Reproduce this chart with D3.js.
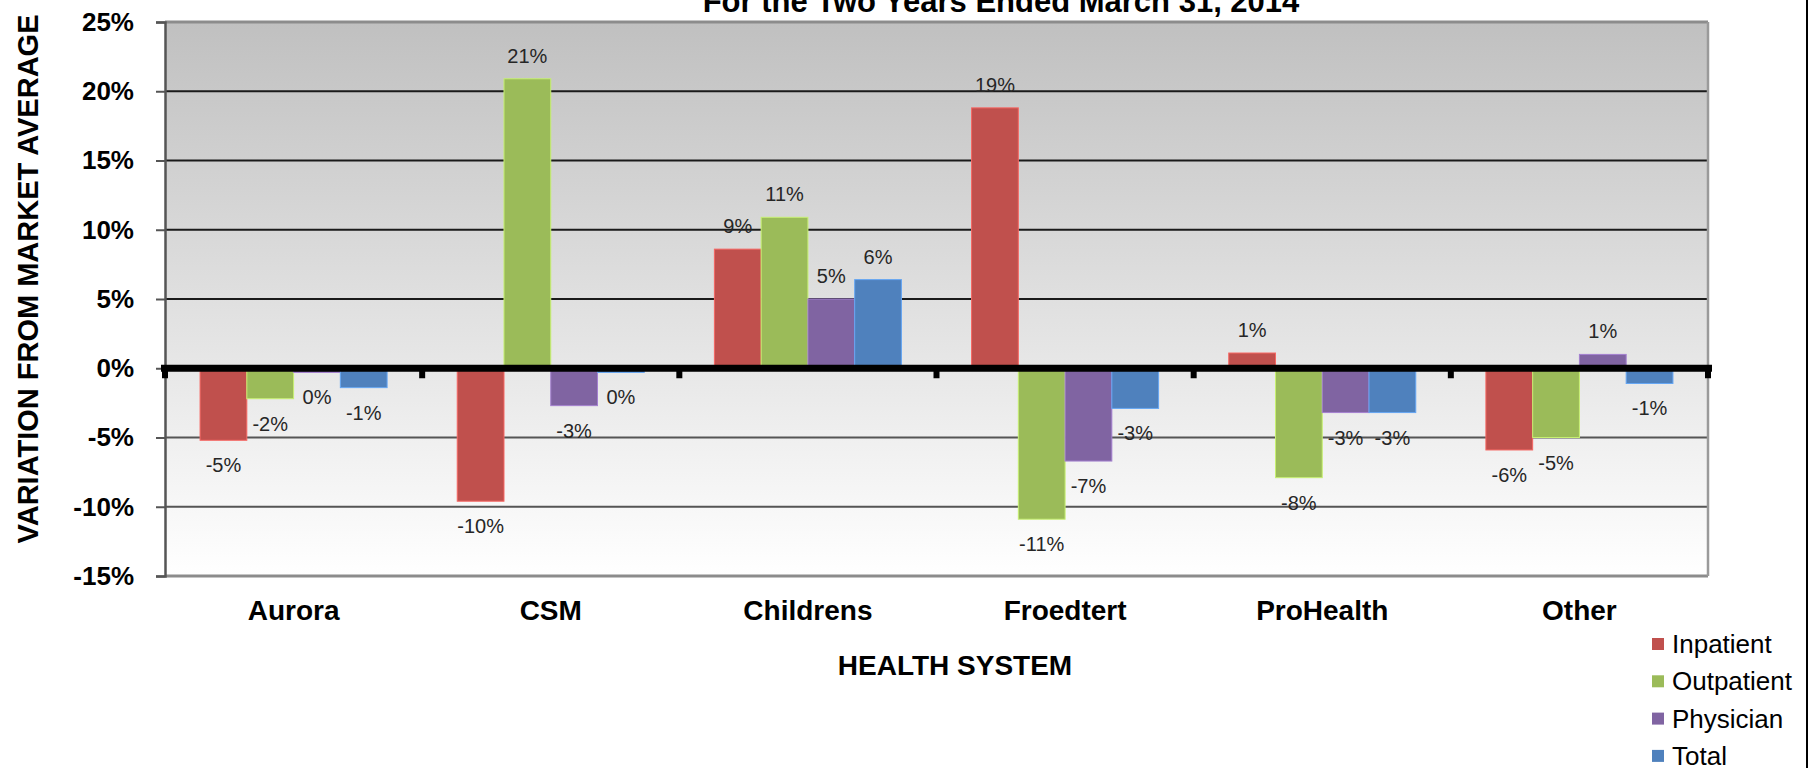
<!DOCTYPE html>
<html>
<head>
<meta charset="utf-8">
<script src="https://cdn.jsdelivr.net/npm/d3@7"></script>
<style>
  body { margin: 0; background: #fff; }
  text { font-family: Arial, "Liberation Sans", sans-serif; }
</style>
</head>
<body>
<svg id="chart" width="1810" height="768"></svg>
<script>
/* Variation from market average by health system, grouped bars. */

// Data (percent)
const categories = ["Aurora", "CSM", "Childrens", "Froedtert", "ProHealth", "Other"];
const seriesNames = ["Inpatient", "Outpatient", "Physician", "Total"];
const inpatient = [-5.2, -9.6, 8.6, 18.8, 1.1, -5.9];
const outpatient = [-2.2, 20.9, 10.9, -10.9, -7.9, -5.0];
const physician = [-0.3, -2.7, 5.0, -6.7, -3.2, 1.0];
const total = [-1.4, -0.3, 6.4, -2.9, -3.2, -1.1];
const yTicks = [-15, -10, -5, 0, 5, 10, 15, 20, 25];
const seriesColors = ["#C0504D", "#9BBB59", "#8064A2", "#4F81BD"];

const seriesValues = [inpatient, outpatient, physician, total];

const plot = { left: 165, right: 1708, top: 22, bottom: 576 };

const svg = d3.select("#chart");

const x0 = d3.scaleBand().domain(categories).range([plot.left, plot.right]);
const barW = x0.bandwidth() / 5.5;
const x1 = d3
  .scaleBand()
  .domain(seriesNames)
  .range([0, barW * 4]);
const groupOffset = (x0.bandwidth() - barW * 4) / 2;

const y = d3.scaleLinear().domain([-15, 25]).range([plot.bottom, plot.top]);
const color = d3.scaleOrdinal().domain(seriesNames).range(seriesColors);

// plot background gradient
const defs = svg.append("defs");
const grad = defs
  .append("linearGradient")
  .attr("id", "bg")
  .attr("x1", 0).attr("y1", 0).attr("x2", 0).attr("y2", 1);
grad.append("stop").attr("offset", "0%").attr("stop-color", "#c0c0c0");
grad.append("stop").attr("offset", "100%").attr("stop-color", "#ffffff");

svg
  .append("rect")
  .attr("x", plot.left)
  .attr("y", plot.top)
  .attr("width", plot.right - plot.left)
  .attr("height", plot.bottom - plot.top)
  .attr("fill", "url(#bg)");

// gridlines
svg
  .append("g")
  .selectAll("line")
  .data(yTicks.filter((t) => t !== 0 && t !== 25 && t !== -15))
  .join("line")
  .attr("x1", plot.left)
  .attr("x2", plot.right)
  .attr("y1", (d) => y(d))
  .attr("y2", (d) => y(d))
  .attr("stroke", (d) => (d > 0 ? "#1a1a1a" : "#555"))
  .attr("stroke-width", 2);

// frame: top, bottom, right gray; left axis
svg.append("line")
  .attr("x1", plot.left).attr("x2", plot.right)
  .attr("y1", y(25)).attr("y2", y(25))
  .attr("stroke", "#8c8c8c").attr("stroke-width", 3);
svg.append("line")
  .attr("x1", plot.left).attr("x2", plot.right)
  .attr("y1", y(-15)).attr("y2", y(-15))
  .attr("stroke", "#8c8c8c").attr("stroke-width", 3);
svg.append("line")
  .attr("x1", plot.right).attr("x2", plot.right)
  .attr("y1", plot.top).attr("y2", plot.bottom)
  .attr("stroke", "#9a9a9a").attr("stroke-width", 2.5);

// y axis
const yAxis = d3
  .axisLeft(y)
  .tickValues(yTicks)
  .tickSize(9)
  .tickPadding(22)
  .tickFormat((d) => d + "%");
const yAxisG = svg
  .append("g")
  .attr("transform", `translate(${plot.left},0)`)
  .call(yAxis);
yAxisG.select(".domain").attr("stroke", "#555").attr("stroke-width", 2.5);
yAxisG.selectAll(".tick line").attr("stroke", "#555").attr("stroke-width", 2);
yAxisG
  .selectAll(".tick text")
  .attr("font-size", 26)
  .attr("font-weight", "bold")
  .attr("fill", "#000")
  .style("font-family", "Arial, 'Liberation Sans', sans-serif");

// bars
const groups = svg
  .append("g")
  .selectAll("g")
  .data(categories)
  .join("g")
  .attr("transform", (d) => `translate(${x0(d) + groupOffset},0)`);

const barData = (cat, ci) =>
  seriesNames.map((s, si) => ({ series: s, value: seriesValues[si][ci] }));

groups
  .selectAll("rect")
  .data((d, i) => barData(d, i))
  .join("rect")
  .attr("x", (d) => x1(d.series))
  .attr("width", x1.bandwidth())
  .attr("y", (d) => y(Math.max(0, d.value)))
  .attr("height", (d) => Math.abs(y(d.value) - y(0)))
  .attr("fill", (d) => color(d.series))
  .attr("stroke", (d) => d3.color(color(d.series)).brighter(0.7))
  .attr("stroke-width", 1);

// value labels
const fmt = (v) => Math.round(v) + "%";
groups
  .selectAll("text")
  .data((d, i) => barData(d, i))
  .join("text")
  .attr("x", (d) => x1(d.series) + x1.bandwidth() / 2)
  .attr("y", (d) => (d.value >= 0 ? y(d.value) - 16 : y(d.value) + 32))
  .attr("text-anchor", "middle")
  .attr("font-size", 20)
  .attr("fill", "#262626")
  .text((d) => fmt(d.value));

// zero axis line with category ticks
const boundaries = categories.map((c) => x0(c)).concat([plot.right]);
svg
  .append("line")
  .attr("x1", plot.left - 4)
  .attr("x2", plot.right + 4)
  .attr("y1", y(0))
  .attr("y2", y(0))
  .attr("stroke", "#000")
  .attr("stroke-width", 7);
svg
  .append("g")
  .selectAll("line")
  .data(boundaries)
  .join("line")
  .attr("x1", (d) => d)
  .attr("x2", (d) => d)
  .attr("y1", y(0))
  .attr("y2", y(0) + 10)
  .attr("stroke", "#000")
  .attr("stroke-width", 6);

// category labels
svg
  .append("g")
  .selectAll("text")
  .data(categories)
  .join("text")
  .attr("x", (d) => x0(d) + x0.bandwidth() / 2)
  .attr("y", 620)
  .attr("text-anchor", "middle")
  .attr("font-size", 28)
  .attr("font-weight", "bold")
  .text((d) => d);

// axis titles
svg
  .append("text")
  .attr("x", 955)
  .attr("y", 675)
  .attr("text-anchor", "middle")
  .attr("font-size", 28)
  .attr("font-weight", "bold")
  .text("HEALTH SYSTEM");

svg
  .append("text")
  .attr("transform", "translate(38,279) rotate(-90)")
  .attr("text-anchor", "middle")
  .attr("font-size", 29)
  .attr("font-weight", "bold")
  .text("VARIATION FROM MARKET AVERAGE");

// chart title (top of it is clipped in the original)
svg
  .append("text")
  .attr("x", 1001)
  .attr("y", 12)
  .attr("text-anchor", "middle")
  .attr("font-size", 31)
  .attr("font-weight", "bold")
  .text("For the Two Years Ended March 31, 2014");

// legend
const legend = svg
  .append("g")
  .selectAll("g")
  .data(seriesNames)
  .join("g")
  .attr("transform", (d, i) => `translate(1652,${638 + i * 37.3})`);
legend
  .append("rect")
  .attr("width", 12)
  .attr("height", 12)
  .attr("fill", (d) => color(d));
legend
  .append("text")
  .attr("x", 20)
  .attr("y", 15)
  .attr("font-size", 26)
  .attr("fill", "#000")
  .text((d) => d);

// outer frame edge on the right
svg
  .append("line")
  .attr("x1", 1807)
  .attr("x2", 1807)
  .attr("y1", 0)
  .attr("y2", 768)
  .attr("stroke", "#000")
  .attr("stroke-width", 2);
</script>
</body>
</html>
